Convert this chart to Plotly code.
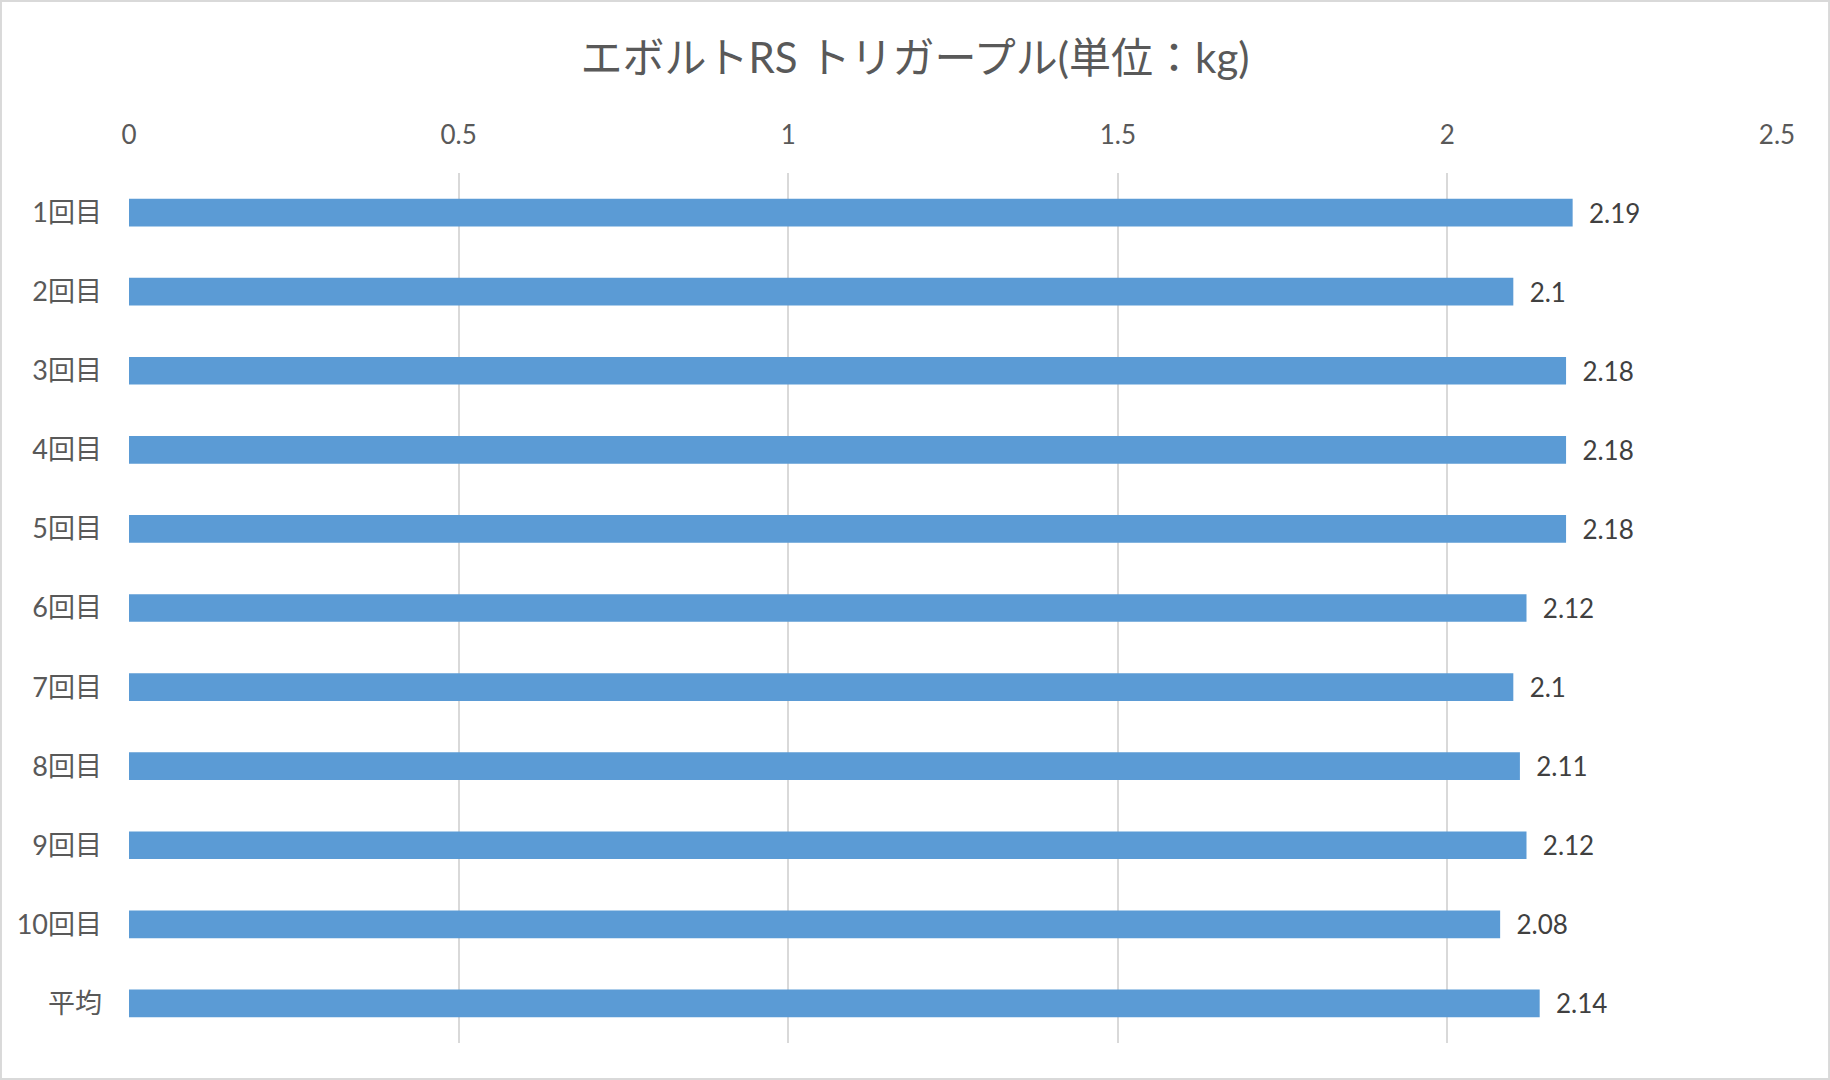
import plotly.graph_objects as go

# trigger pull measurements (kg)
trials = ["1回目", "2回目", "3回目", "4回目", "5回目", "6回目", "7回目", "8回目", "9回目", "10回目", "平均"]
pull_kg = [2.19, 2.1, 2.18, 2.18, 2.18, 2.12, 2.1, 2.11, 2.12, 2.08, 2.14]
x_ticks = [0, 0.5, 1, 1.5, 2, 2.5]

FONT = "Lato, 'Noto Sans CJK JP', sans-serif"

fig = go.Figure(go.Bar(
    x=pull_kg, y=trials, orientation="h",
    marker=dict(color="#5B9BD5", line=dict(width=0)),
    width=0.35,
    text=["  " + str(v) for v in pull_kg],
    textposition="outside", cliponaxis=False, constraintext="none",
    textfont=dict(size=26, color="#404040", family=FONT),
))

fig.update_layout(
    title=dict(text="エボルトRS トリガープル(単位：kg)", x=0.5, xanchor="center",
               y=0.946, yanchor="middle",
               font=dict(size=42, color="#595959", family=FONT)),
    width=1830, height=1080,
    margin=dict(l=129, r=53, t=173, b=37),
    plot_bgcolor="white", paper_bgcolor="white",
    showlegend=False,
    font=dict(family=FONT),
)
fig.update_xaxes(side="top", range=[0, 2.5], tickvals=x_ticks,
                 showgrid=True, gridcolor="#d9d9d9", gridwidth=1.5,
                 zeroline=False, showline=False, ticks="",
                 ticklabelstandoff=23,
                 tickfont=dict(size=26, color="#595959"))
fig.update_yaxes(autorange="reversed", showgrid=False, zeroline=False,
                 showline=False, ticks="", ticklabelstandoff=26,
                 tickfont=dict(size=27, color="#595959"))

# chart frame
fig.add_shape(type="rect", xref="paper", yref="paper",
              x0=-0.0777, x1=1.0316, y0=-0.0414, y1=1.1977,
              line=dict(color="#d9d9d9", width=2), layer="below")

fig.write_html("out.html", config={"displayModeBar": False},
               post_script="document.body.style.margin='0';")
